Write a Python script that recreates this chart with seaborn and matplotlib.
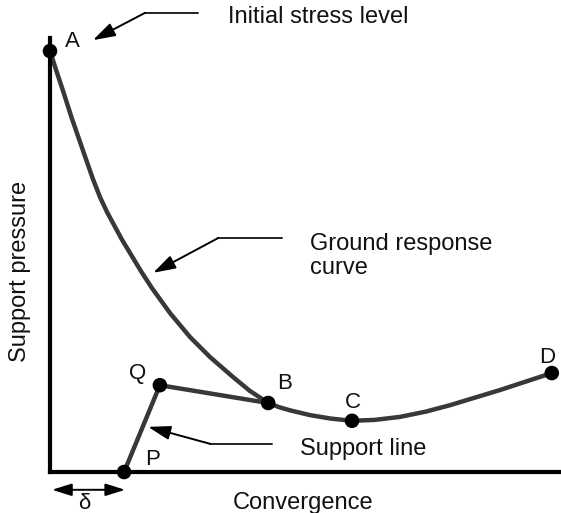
import matplotlib
matplotlib.use("Agg")
import matplotlib.pyplot as plt
import seaborn as sns
import numpy as np

# Ground response curve (arbitrary units 0-100)
curve_x = [0, 1.2, 2.5, 4.3, 6.3, 8.4, 9.8, 11.2, 14.1, 18.0, 20.0, 23.5, 27.4, 31.3, 35.8,
           39.1, 42.7, 44.8, 47.0, 50.9, 55.0, 59.1, 63.5, 68.5, 73.5, 78.3, 88.1, 98.2]
curve_y = [97.0, 92.6, 88.0, 81.4, 74.6, 67.5, 63.3, 59.8, 53.5, 45.9, 42.3, 36.6, 31.1, 26.5, 21.9,
           18.7, 15.9, 14.95, 14.2, 13.1, 12.3, 11.8, 12.0, 12.7, 13.9, 15.4, 18.9, 22.8]

# Support line P -> Q -> B
support_x = [14.5, 21.5, 42.7]
support_y = [0.0, 20.0, 15.9]

# named points
pt_names = ["A", "B", "C", "D", "Q", "P"]
pt_x = [0.0, 42.7, 59.1, 98.2, 21.5, 14.5]
pt_y = [97.0, 15.9, 11.8, 22.8, 20.0, 0.0]

sns.set_style("white")
plt.rcParams['font.family'] = ['Liberation Sans', 'DejaVu Sans']

fig = plt.figure(figsize=(5.61, 5.13), dpi=100)
ax = fig.add_axes([50 / 561, 41 / 513, 511 / 561, 434 / 513])

line_col = "#383838"
sns.lineplot(x=curve_x, y=curve_y, sort=False, ax=ax, color=line_col, lw=3.2,
             solid_joinstyle="round", clip_on=False)
sns.lineplot(x=support_x, y=support_y, sort=False, ax=ax, color=line_col, lw=3.2,
             solid_joinstyle="round", clip_on=False)
sns.scatterplot(x=pt_x, y=pt_y, ax=ax, color="black", s=110, edgecolor="none", zorder=5, clip_on=False)

ax.set_xlim(0, 100)
ax.set_ylim(0, 100)
ax.set_xticks([])
ax.set_yticks([])
sns.despine(ax=ax)
for s in ["left", "bottom"]:
    ax.spines[s].set_linewidth(3)
    ax.spines[s].set_color("black")

# point labels
lab_pos = {"A": (4.3, 99.1), "B": (46.0, 20.5), "C": (59.3, 16.1),
           "D": (97.3, 26.3), "Q": (17.2, 22.8), "P": (20.0, 2.8)}
for n in pt_names:
    ax.text(lab_pos[n][0], lab_pos[n][1], n, fontsize=16, color="#111111",
            ha="center", va="center", clip_on=False)

txt_kw = dict(fontsize=17, color="#111111", clip_on=False)
arr_kw = dict(arrowstyle="-|>,head_length=0.8,head_width=0.25", color="black", lw=1.4,
              mutation_scale=17, shrinkA=0, shrinkB=0)

# initial stress level
ax.text(34.8, 104.8, "Initial stress level", ha="left", va="center", **txt_kw)
ax.plot([29.0, 18.6], [105.8, 105.8], color="#222222", lw=1.4, clip_on=False)
ax.annotate("", xy=(8.4, 99.5), xytext=(18.6, 105.8), arrowprops=arr_kw, annotation_clip=False)

# ground response curve
ax.text(50.9, 52.5, "Ground response", ha="left", va="center", **txt_kw)
ax.text(50.9, 47.0, "curve", ha="left", va="center", **txt_kw)
ax.plot([45.4, 32.9], [53.9, 53.9], color="#222222", lw=1.4)
ax.annotate("", xy=(20.2, 45.9), xytext=(32.9, 53.9), arrowprops=arr_kw)

# support line
ax.text(48.9, 5.3, "Support line", ha="left", va="center", **txt_kw)
ax.plot([43.4, 31.3], [6.5, 6.5], color="#222222", lw=1.4)
ax.annotate("", xy=(19.2, 10.4), xytext=(31.3, 6.5), arrowprops=arr_kw)

# delta
ax.annotate("", xy=(0.4, -4.1), xytext=(14.7, -4.1),
            arrowprops=dict(arrowstyle="<|-|>,head_length=0.7,head_width=0.22", color="black",
                            lw=1.4, mutation_scale=17, shrinkA=0, shrinkB=0),
            annotation_clip=False)
ax.text(6.8, -7.3, "δ", fontsize=16, color="#111111", ha="center", va="center", clip_on=False)

ax.set_xlabel("Convergence", fontsize=17, color="#111111")
ax.set_ylabel("Support pressure", fontsize=17, color="#111111")
ax.xaxis.set_label_coords(0.495, -0.045)
ax.yaxis.set_label_coords(-0.038, 0.463)

fig.savefig("out.png", dpi=100)
